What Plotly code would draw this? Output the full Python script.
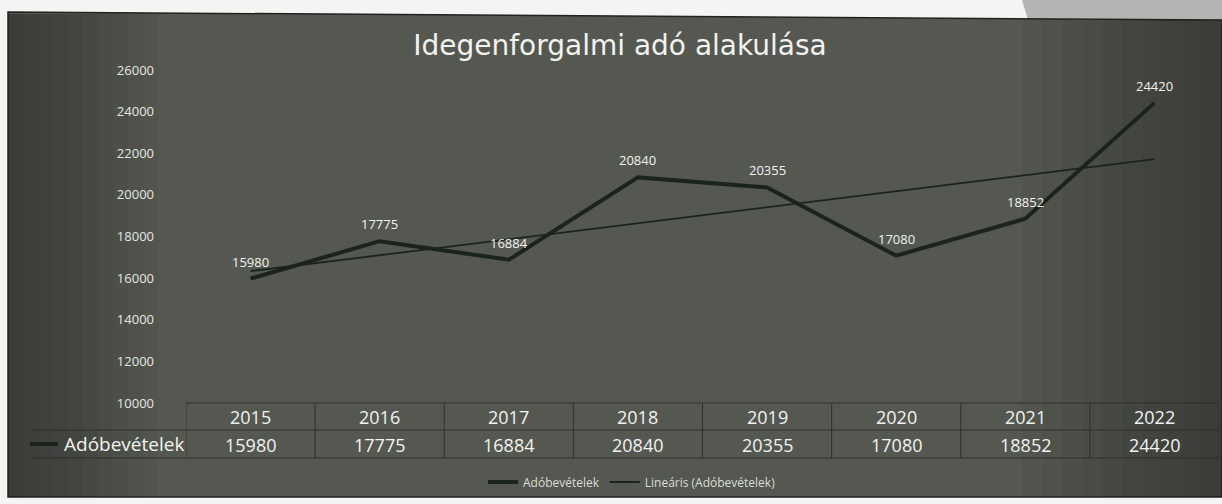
import numpy as np
import plotly.graph_objects as go

# ---- data ----
years = ["2015", "2016", "2017", "2018", "2019", "2020", "2021", "2022"]
revenue = [15980, 17775, 16884, 20840, 20355, 17080, 18852, 24420]
series_name = "Adóbevételek"
trend_name = "Lineáris (Adóbevételek)"
title_text = "Idegenforgalmi adó alakulása"
y_ticks = [10000, 12000, 14000, 16000, 18000, 20000, 22000, 24000, 26000]

# linear trendline from the series (as the spreadsheet does)
idx = np.arange(len(revenue))
slope, intercept = np.polyfit(idx, revenue, 1)
trend = list(slope * idx + intercept)

# ---- layout geometry ----
W, H = 1222, 504
L, R, T, B = 186, 3, 70, 101
PW, PH = W - L - R, H - T - B


def px(x):
    return (x - L) / PW


def py(y):
    return (H - B - y) / PH


LINE_COL = "#1b241b"
TXT = "#f2f2f0"
FONT = "Open Sans"
BG = "#545850"

fig = go.Figure()
fig.add_trace(go.Scatter(
    x=list(idx), y=revenue, mode="lines", name=series_name,
    line=dict(color=LINE_COL, width=4),
))
fig.add_trace(go.Scatter(
    x=list(idx), y=trend, mode="lines", name=trend_name,
    line=dict(color=LINE_COL, width=1.8),
))

shapes = []
# photo surroundings / slide background
shapes.append(dict(type="rect", xref="paper", yref="paper", x0=px(0), x1=px(W), y0=py(H), y1=py(0),
                   fillcolor="#f4f4f2", line_width=0, layer="below"))
shapes.append(dict(type="path", xref="paper", yref="paper",
                   path=f"M {px(1022)} {py(0)} L {px(W)} {py(0)} L {px(W)} {py(22)} L {px(1028)} {py(20)} Z",
                   fillcolor="#b4b4b2", line_width=0, layer="below"))
shapes.append(dict(type="path", xref="paper", yref="paper",
                   path=f"M {px(8)} {py(497)} L {px(W)} {py(497)} L {px(W)} {py(20)} L {px(8)} {py(12)} Z",
                   fillcolor=BG, line=dict(color="#222", width=1.5), layer="below"))
# soft darkening toward the left and right edges (photo vignetting)
steps = 10
for k in range(steps):
    a = 0.045
    wl = 150 * (k + 1) / steps
    shapes.append(dict(type="rect", xref="paper", yref="paper", x0=px(8), x1=px(8 + wl),
                       y0=py(497), y1=py(14), fillcolor=f"rgba(20,25,20,{a})", line_width=0, layer="below"))
    wr = 200 * (k + 1) / steps
    shapes.append(dict(type="rect", xref="paper", yref="paper", x0=px(W - wr), x1=px(W),
                       y0=py(497), y1=py(20), fillcolor=f"rgba(20,25,20,{a})", line_width=0, layer="below"))

# data table grid
GRID = "rgba(35,40,35,0.75)"
for yy in (403, 430, 458):
    shapes.append(dict(type="line", xref="paper", yref="paper", x0=px(30 if yy != 403 else L), x1=1,
                       y0=py(yy), y1=py(yy), line=dict(color=GRID, width=1)))
for i in range(len(years) + 1):
    shapes.append(dict(type="line", xref="x", yref="paper", x0=i - 0.5, x1=i - 0.5,
                       y0=py(403), y1=py(458), line=dict(color=GRID, width=1)))
# legend key inside the table
shapes.append(dict(type="line", xref="paper", yref="paper", x0=px(30), x1=px(58),
                   y0=py(444), y1=py(444), line=dict(color=LINE_COL, width=4)))

annotations = []
for i, (yr, v) in enumerate(zip(years, revenue)):
    # data labels above the points
    annotations.append(dict(x=i, y=v, xref="x", yref="y", text=str(v), showarrow=False,
                            yshift=17, font=dict(color=TXT, size=13, family=FONT)))
    # data table cells
    annotations.append(dict(x=i, y=py(417), xref="x", yref="paper", text=yr, showarrow=False,
                            xanchor="center", yanchor="middle",
                            font=dict(color=TXT, size=18, family=FONT)))
    annotations.append(dict(x=i, y=py(445), xref="x", yref="paper", text=str(v), showarrow=False,
                            xanchor="center", yanchor="middle",
                            font=dict(color=TXT, size=18, family=FONT)))
annotations.append(dict(x=px(124), y=py(444), xref="paper", yref="paper", text=series_name,
                        xanchor="center", yanchor="middle", showarrow=False,
                        font=dict(color=TXT, size=19, family=FONT)))

fig.update_layout(
    width=W, height=H,
    margin=dict(l=L, r=R, t=T, b=B),
    paper_bgcolor=BG,
    plot_bgcolor="rgba(0,0,0,0)",
    title=dict(text=title_text, x=px(620), xanchor="center", xref="paper",
               y=1 - 45 / H, yanchor="middle",
               font=dict(color=TXT, size=28, family="DejaVu Sans")),
    xaxis=dict(showticklabels=False, showgrid=False, zeroline=False, showline=False,
               ticks="", range=[-0.5, len(years) - 0.5]),
    yaxis=dict(range=[10000, 26000], tickvals=y_ticks, ticktext=[str(t) for t in y_ticks],
               showgrid=False, zeroline=False,
               showline=False, ticks="", ticklabelstandoff=31,
               tickfont=dict(color="#e6e6e4", size=13, family=FONT)),
    showlegend=True,
    legend=dict(orientation="h", x=px(632), xanchor="center", y=py(482), yanchor="middle",
                bgcolor="rgba(0,0,0,0)", font=dict(color="#dcdcda", size=12, family=FONT),
                itemwidth=30),
    shapes=shapes,
    annotations=annotations,
)

fig.write_html("out.html", config={"displayModeBar": False},
               post_script="document.body.style.margin='0';")
